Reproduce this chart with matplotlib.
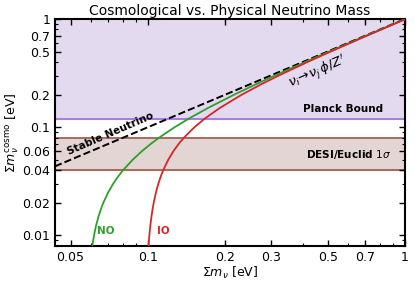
import matplotlib
matplotlib.use('Agg')
import matplotlib.pyplot as plt
from matplotlib.ticker import FixedLocator, FixedFormatter, NullFormatter

# data
cosmo = [0.007, 0.008, 0.009, 0.010, 0.011, 0.0125, 0.015, 0.0175, 0.02, 0.025, 0.03,
         0.035, 0.04, 0.05, 0.06, 0.07, 0.08, 0.10, 0.12, 0.15, 0.20, 0.25, 0.30, 0.40,
         0.50, 0.70, 1.00]
no_sum = [0.06035, 0.06079, 0.06125, 0.06172, 0.06220, 0.06294, 0.06424, 0.06561, 0.06704,
          0.07005, 0.07323, 0.07656, 0.08000, 0.08720, 0.09471, 0.10249, 0.11048, 0.12703,
          0.14417, 0.17074, 0.21663, 0.26378, 0.31173, 0.40900, 0.50728, 0.70525, 1.00369]
io_sum = [0.10017, 0.10053, 0.10091, 0.10128, 0.10166, 0.10224, 0.10323, 0.10425, 0.10529,
          0.10747, 0.10975, 0.11214, 0.11463, 0.11992, 0.12559, 0.13163, 0.13800, 0.15163,
          0.16629, 0.18982, 0.23198, 0.27654, 0.32260, 0.41734, 0.51403, 0.71012, 1.00712]
stable = [0.0435, 1.0]
planck = 0.12
desi = [0.04, 0.08]

xticks = [0.05, 0.1, 0.2, 0.3, 0.5, 0.7, 1]
xlabels = ['0.05', '0.1', '0.2', '0.3', '0.5', '0.7', '1']
yticks = [0.01, 0.02, 0.04, 0.06, 0.1, 0.2, 0.5, 0.7, 1]
ylabels = ['0.01', '0.02', '0.04', '0.06', '0.1', '0.2', '0.5', '0.7', '1']

fig = plt.figure(figsize=(4.15, 2.83), dpi=100)
ax = fig.add_axes([0.1325, 0.131, 0.8435, 0.802])
ax.set_xscale('log')
ax.set_yscale('log')
ax.set_xlim(0.0435, 1)
ax.set_ylim(0.008, 1)

# shaded regions
ax.axhspan(planck, 1, color='#e4daef', zorder=0)
ax.axhline(planck, color='#9b6fd6', lw=1.2, zorder=1)
ax.axhspan(desi[0], desi[1], color='#e2d5d3', zorder=0)
ax.axhline(desi[0], color='#a0554a', lw=1.2, zorder=1)
ax.axhline(desi[1], color='#a0554a', lw=1.2, zorder=1)

ax.plot(stable, stable, '--', color='black', lw=1.4, zorder=3)
ax.plot(no_sum, cosmo, color='#2ca02c', lw=1.3, zorder=4)
ax.plot(io_sum, cosmo, color='#d62728', lw=1.3, zorder=4)

ax.text(0.0718, 0.088, 'Stable Neutrino', rotation=23.5, ha='center', va='center',
        fontsize=7.5, fontweight='bold')
ax.text(0.46, 0.32, r'$\nu_i\!\rightarrow\!\nu_j\,\phi/Z^{\prime}$', rotation=23.5,
        ha='center', va='center', fontsize=9.5)
ax.text(0.82, 0.147, 'Planck Bound', ha='right', va='center', fontsize=7.5, fontweight='bold')
ax.text(0.88, 0.056, r'DESI/Euclid $1\sigma$', ha='right', va='center', fontsize=7.5,
        fontweight='bold')
ax.text(0.0634, 0.011, 'NO', color='#2ca02c', ha='left', va='center', fontsize=7.5,
        fontweight='bold')
ax.text(0.108, 0.011, 'IO', color='#d62728', ha='left', va='center', fontsize=7.5,
        fontweight='bold')

ax.xaxis.set_major_locator(FixedLocator(xticks))
ax.xaxis.set_major_formatter(FixedFormatter(xlabels))
ax.xaxis.set_minor_formatter(NullFormatter())
ax.yaxis.set_major_locator(FixedLocator(yticks))
ax.yaxis.set_major_formatter(FixedFormatter(ylabels))
ax.yaxis.set_minor_formatter(NullFormatter())
ax.tick_params(which='both', direction='in', top=True, right=True, labelsize=9)
ax.tick_params(which='major', length=4, width=1)
ax.tick_params(which='minor', length=2, width=0.8)
for s in ax.spines.values():
    s.set_linewidth(1.5)

ax.set_xlabel(r'$\Sigma m_\nu$ [eV]', fontsize=9, labelpad=1)
ax.set_ylabel(r'$\Sigma m_\nu^{\rm cosmo}$ [eV]', fontsize=9, labelpad=1)
ax.set_title('Cosmological vs. Physical Neutrino Mass', fontsize=10, pad=3)

fig.savefig('out.png', dpi=100)
